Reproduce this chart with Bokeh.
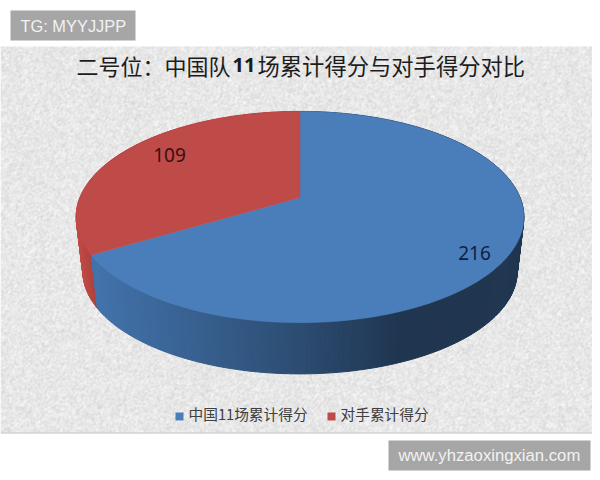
import numpy as np
from bokeh.plotting import figure
from bokeh.embed import file_html
from bokeh.resources import INLINE
from bokeh.core.properties import value

# data
categories = ["中国11场累计得分", "对手累计得分"]
points = [216, 109]
colors_top = ["#4A7EBB", "#BE4B48"]
title_parts = ["二号位：中国队", "11", "场累计得分与对手得分对比"]

# layout, in reference pixels
W, H = 592, 472
APEX_X, APEX_Y = 299.5, 197.0
A, B, C = 220.0, 102.0, 0.185
DEPTH, SHRINK = 55.0, 0.97


def project(theta, scale=1.0, drop=0.0):
    u, v = np.sin(theta), np.cos(theta)
    w = 1 + C * v
    return APEX_X + scale * A * u / w, APEX_Y - scale * B * v / w + drop


def ramp(x, stops):
    xs = [s[0] for s in stops]
    return "#%02x%02x%02x" % tuple(
        int(round(np.interp(x, xs, [s[1][i] for s in stops]))) for i in range(3)
    )


blue_side = [(90, (66, 115, 172)), (200, (55, 95, 142)), (300, (44, 76, 113)),
             (400, (31, 53, 80)), (525, (33, 54, 80))]
red_side = [(75, (196, 78, 72)), (95, (170, 62, 58))]

p = figure(width=W, height=H, x_range=(0, W), y_range=(H, 0), toolbar_location=None,
           output_backend="svg", min_border=0, background_fill_color="white",
           border_fill_color="white", outline_line_color=None)
p.xaxis.visible = False
p.yaxis.visible = False
p.xgrid.visible = False
p.ygrid.visible = False

# paper texture behind the chart (decoration only, not data)
yy, xx = np.mgrid[0:386, 0:592]
grain = np.modf(np.abs(np.sin(xx * 12.9898 + yy * 78.233)) * 43758.5453)[0]
soft = (grain + np.roll(grain, 1, 0) + np.roll(grain, 1, 1)) / 3
shade = (232 + (soft - 0.5) * 44).clip(195, 252).astype(np.uint32)
img = (255 << 24) | (shade << 16) | (shade << 8) | shade
p.image_rgba(image=[img], x=0, y=46, dw=W, dh=386)
p.segment([0], [432.5], [W], [432.5], line_color="#BDBDBD", line_width=1)

# side wall, far to near
total = sum(points)
split = 2 * np.pi * points[0] / total
edges = np.radians(np.arange(0, 361, 1.0))
edges = np.sort(np.append(edges, split))
quads = []
for a0, a1 in zip(edges[:-1], edges[1:]):
    mid = (a0 + a1) / 2
    x0, y0 = project(a0)
    x1, y1 = project(a1)
    x2, y2 = project(a1, SHRINK, DEPTH)
    x3, y3 = project(a0, SHRINK, DEPTH)
    col = ramp((x0 + x1) / 2, blue_side if mid < split else red_side)
    quads.append((np.cos(mid), [x0, x1, x2, x3], [y0, y1, y2, y3], col))
quads.sort(key=lambda q: -q[0])
p.patches([q[1] for q in quads], [q[2] for q in quads], fill_color=[q[3] for q in quads],
          line_color=[q[3] for q in quads], line_width=1.0)

# top face
start = 0.0
for val, col in zip(points, colors_top):
    end = start + 2 * np.pi * val / total
    t = np.linspace(start, end, 240)
    xs, ys = project(t)
    p.patch([APEX_X, *xs], [APEX_Y, *ys], fill_color=col, line_color=col, line_width=0.5)
    start = end

# title
cjk = value("Noto Sans CJK SC")
p.text([76], [64], text=[title_parts[0]], text_font=cjk, text_font_size="22px",
       text_color="#1C1C1C", text_baseline="middle", text_align="left")
p.text([232], [64], text=[title_parts[1]], text_font=value("Noto Sans"), text_font_size="20px",
       text_font_style="bold", text_color="#1C1C1C", text_baseline="middle", text_align="left")
p.text([257], [64], text=[title_parts[2]], text_font=cjk, text_font_size="22.3px",
       text_color="#1C1C1C", text_baseline="middle", text_align="left")

# value labels
p.text([169], [154], text=[str(points[1])], text_font=value("Noto Sans"), text_font_size="19px",
       text_color="#3A0F10", text_baseline="middle", text_align="center")
p.text([474], [252], text=[str(points[0])], text_font=value("Noto Sans"), text_font_size="19px",
       text_color="#0F2040", text_baseline="middle", text_align="center")

# legend
p.rect([179, 331], [416, 416], width=8, height=8, fill_color=colors_top, line_color=None)
p.text([188, 340], [413, 413], text=categories, text_font=cjk, text_font_size="14.7px",
       text_color="#404040", text_baseline="middle", text_align="left")

# watermark boxes
p.quad(left=[10, 388], right=[135, 590], top=[10, 440], bottom=[40, 470],
       fill_color="#A6A6A6", line_color=None)
p.text([20], [25], text=["TG: MYYJJPP"], text_font=value("Liberation Sans"), text_font_size="16.4px",
       text_color="#F2F2F2", text_baseline="middle", text_align="left")
p.text([398], [455], text=["www.yhzaoxingxian.com"], text_font=value("Liberation Sans"),
       text_font_size="16.7px", text_color="#F2F2F2", text_baseline="middle", text_align="left")

open("out.html", "w").write(file_html(p, INLINE))
